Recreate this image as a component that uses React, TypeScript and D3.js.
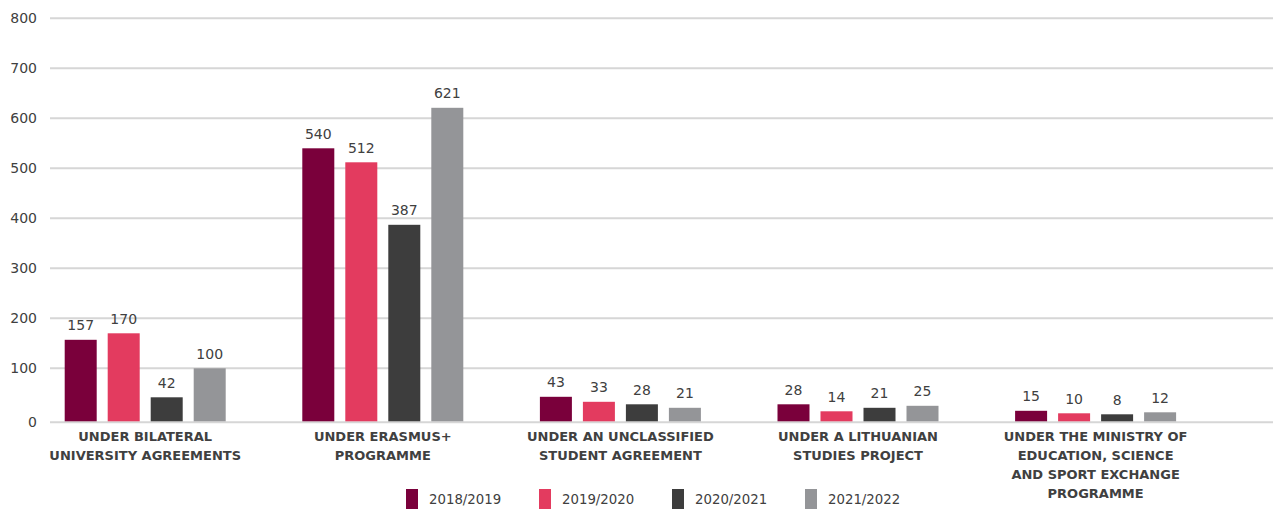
import React from "react";
import * as d3 from "d3";

const categories = [
  "UNDER BILATERAL UNIVERSITY AGREEMENTS",
  "UNDER ERASMUS+ PROGRAMME",
  "UNDER AN UNCLASSIFIED STUDENT AGREEMENT",
  "UNDER A LITHUANIAN STUDIES PROJECT",
  "UNDER THE MINISTRY OF EDUCATION, SCIENCE AND SPORT EXCHANGE PROGRAMME",
];
const categoryLines = [
  ["UNDER BILATERAL", "UNIVERSITY AGREEMENTS"],
  ["UNDER ERASMUS+", "PROGRAMME"],
  ["UNDER AN UNCLASSIFIED", "STUDENT AGREEMENT"],
  ["UNDER A LITHUANIAN", "STUDIES PROJECT"],
  ["UNDER THE MINISTRY OF", "EDUCATION, SCIENCE", "AND SPORT EXCHANGE", "PROGRAMME"],
];
const seriesNames = ["2018/2019", "2019/2020", "2020/2021", "2021/2022"];
const values2018 = [157, 540, 43, 28, 15];
const values2019 = [170, 512, 33, 14, 10];
const values2020 = [42, 387, 28, 21, 8];
const values2021 = [100, 621, 21, 25, 12];
const seriesValues = [values2018, values2019, values2020, values2021];
const yTicks = [0, 100, 200, 300, 400, 500, 600, 700, 800];

const colors = ["#7a003b", "#e33b5f", "#3d3d3d", "#949598"];
const FONT = "'DejaVu Sans', sans-serif";
const TEXT = "#404040";

export default function App() {
  const W = 1273;
  const H = 509;
  const x0 = d3.scaleBand<string>().domain(categories).range([26.4, 1214.4]).padding(0);
  const x1 = d3
    .scaleBand<string>()
    .domain(seriesNames)
    .range([0, 161])
    .paddingInner(11 / 43)
    .paddingOuter(0);
  const y = d3.scaleLinear().domain([0, 800]).range([418.3, 18.3]);
  const base = y(0) + 3;
  const groupW = 161;

  return (
    <svg
      width={W}
      height={H}
      style={{ position: "absolute", left: 0, top: 0, background: "#fff" }}
      fontFamily={FONT}
    >
      {/* gridlines */}
      {yTicks.map((t) => (
        <g key={t}>
          <line
            x1={50}
            x2={W}
            y1={t === 0 ? y(0) + 4 : y(t)}
            y2={t === 0 ? y(0) + 4 : y(t)}
            stroke="#d6d6d6"
            strokeWidth={2}
          />
          <text
            x={37}
            y={(t === 0 ? y(0) + 4 : y(t)) + 5}
            textAnchor="end"
            fontSize={14}
            fill={TEXT}
          >
            {t}
          </text>
        </g>
      ))}

      {/* bars */}
      {categories.map((c, ci) => {
        const gx = (x0(c) as number) + x0.bandwidth() / 2 - groupW / 2;
        return (
          <g key={c}>
            {seriesNames.map((s, si) => {
              const v = seriesValues[si][ci];
              const bx = gx + (x1(s) as number);
              const top = y(v);
              return (
                <g key={s}>
                  <rect x={bx} y={top} width={x1.bandwidth()} height={base - top} fill={colors[si]} />
                  <text
                    x={bx + x1.bandwidth() / 2}
                    y={top - 9.5}
                    textAnchor="middle"
                    fontSize={14}
                    fill={TEXT}
                  >
                    {v}
                  </text>
                </g>
              );
            })}
            {categoryLines[ci].map((line, li) => (
              <text
                key={li}
                x={(x0(c) as number) + x0.bandwidth() / 2}
                y={441 + li * 19}
                textAnchor="middle"
                fontSize={13}
                fontWeight={700}
                fill={TEXT}
              >
                {line}
              </text>
            ))}
          </g>
        );
      })}

      {/* legend */}
      {seriesNames.map((s, si) => (
        <g key={s} transform={`translate(${406 + si * 133},489)`}>
          <rect x={0} y={0} width={12} height={20} fill={colors[si]} />
          <text x={23} y={15} fontSize={13.3} fill={TEXT}>
            {s}
          </text>
        </g>
      ))}
    </svg>
  );
}
